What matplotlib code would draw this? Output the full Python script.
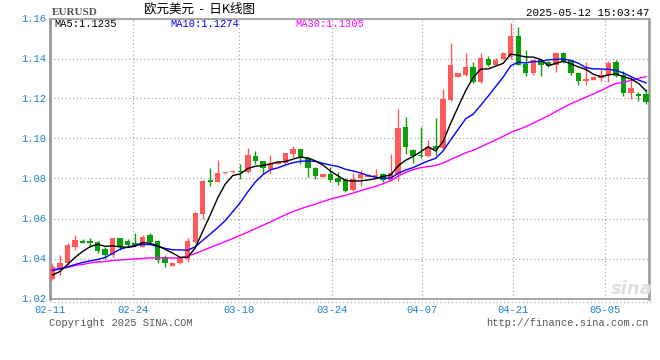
import numpy as np
import pandas as pd
import matplotlib
matplotlib.use("Agg")
import matplotlib.pyplot as plt
from matplotlib.lines import Line2D

# ========== DATA (daily bars) ========== #
opens = [1.0300, 1.0355, 1.0375, 1.0455, 1.0490, 1.0485, 1.0485, 1.0445, 1.0415, 1.0500,
         1.0485, 1.0475, 1.0460, 1.0515, 1.0485, 1.0405, 1.0365, 1.0375, 1.0399, 1.0485,
         1.0623, 1.0790, 1.0782, 1.0828, 1.0833, 1.0839, 1.0835, 1.0915, 1.0888, 1.0850,
         1.0875, 1.0879, 1.0920, 1.0945, 1.0904, 1.0854, 1.0809, 1.0820, 1.0800, 1.0799,
         1.0743, 1.0805, 1.0810, 1.0810, 1.0820, 1.0793, 1.0825, 1.1055, 1.0940, 1.0917,
         1.0912, 1.0962, 1.0954, 1.1193, 1.1309, 1.1320, 1.1359, 1.1282, 1.1399, 1.1370,
         1.1399, 1.1410, 1.1515, 1.1370, 1.1325, 1.1392, 1.1384, 1.1367, 1.1429, 1.1390,
         1.1329, 1.1287, 1.1295, 1.1304, 1.1320, 1.1382, 1.1315, 1.1229, 1.1220, 1.1220]
highs = [1.0380, 1.0420, 1.0475, 1.0515, 1.0495, 1.0505, 1.0490, 1.0460, 1.0505, 1.0505,
         1.0495, 1.0530, 1.0520, 1.0528, 1.0493, 1.0420, 1.0378, 1.0410, 1.0505, 1.0632,
         1.0795, 1.0854, 1.0892, 1.0835, 1.0843, 1.0874, 1.0951, 1.0937, 1.0890, 1.0919,
         1.0885, 1.0930, 1.0962, 1.0948, 1.0908, 1.0858, 1.0823, 1.0856, 1.0832, 1.0805,
         1.0830, 1.0845, 1.0823, 1.0849, 1.0828, 1.0925, 1.1150, 1.1109, 1.0949, 1.1057,
         1.0995, 1.1103, 1.1245, 1.1479, 1.1330, 1.1429, 1.1382, 1.1429, 1.1415, 1.1404,
         1.1432, 1.1580, 1.1557, 1.1442, 1.1400, 1.1395, 1.1388, 1.1432, 1.1434, 1.1393,
         1.1333, 1.1384, 1.1313, 1.1350, 1.1390, 1.1392, 1.1340, 1.1309, 1.1232, 1.1250]
lows = [1.0295, 1.0320, 1.0370, 1.0445, 1.0475, 1.0460, 1.0430, 1.0395, 1.0410, 1.0445,
        1.0460, 1.0465, 1.0455, 1.0475, 1.0380, 1.0358, 1.0363, 1.0373, 1.0385, 1.0480,
        1.0600, 1.0762, 1.0780, 1.0825, 1.0830, 1.0799, 1.0830, 1.0875, 1.0825, 1.0825,
        1.0873, 1.0870, 1.0910, 1.0873, 1.0808, 1.0799, 1.0806, 1.0784, 1.0770, 1.0733,
        1.0738, 1.0765, 1.0808, 1.0808, 1.0780, 1.0790, 1.0787, 1.0920, 1.0879, 1.0904,
        1.0910, 1.0918, 1.0950, 1.1190, 1.1305, 1.1312, 1.1279, 1.1280, 1.1362, 1.1368,
        1.1398, 1.1400, 1.1368, 1.1312, 1.1320, 1.1315, 1.1357, 1.1332, 1.1378, 1.1317,
        1.1267, 1.1270, 1.1293, 1.1287, 1.1282, 1.1310, 1.1212, 1.1199, 1.1187, 1.1174]
closes = [1.0360, 1.0380, 1.0465, 1.0490, 1.0480, 1.0480, 1.0440, 1.0415, 1.0500, 1.0455,
          1.0467, 1.0468, 1.0510, 1.0482, 1.0393, 1.0375, 1.0375, 1.0403, 1.0485, 1.0628,
          1.0790, 1.0783, 1.0830, 1.0832, 1.0839, 1.0833, 1.0915, 1.0887, 1.0851, 1.0879,
          1.0881, 1.0927, 1.0945, 1.0904, 1.0854, 1.0812, 1.0820, 1.0795, 1.0785, 1.0738,
          1.0799, 1.0823, 1.0818, 1.0818, 1.0795, 1.0830, 1.1055, 1.0958, 1.0912, 1.0911,
          1.0959, 1.0950, 1.1195, 1.1365, 1.1325, 1.1359, 1.1282, 1.1404, 1.1370, 1.1395,
          1.1429, 1.1515, 1.1370, 1.1329, 1.1392, 1.1367, 1.1362, 1.1429, 1.1382, 1.1329,
          1.1287, 1.1300, 1.1307, 1.1320, 1.1375, 1.1315, 1.1229, 1.1250, 1.1212, 1.1184]

# MA values before the window is full (history not shown on the chart)
ma5_head = [1.0318, 1.0335, 1.0370, 1.0405]
ma10_head = [1.0340, 1.0348, 1.0358, 1.0370, 1.0380, 1.0388, 1.0395, 1.0405, 1.0425]
ma30_head = [1.0345, 1.0350, 1.0355, 1.0365, 1.0370, 1.0378, 1.0383, 1.0385, 1.0390, 1.0393,
             1.0395, 1.0398, 1.0400, 1.0403, 1.0403, 1.0403, 1.0402, 1.0403, 1.0411, 1.0425,
             1.0440, 1.0455, 1.0470, 1.0485, 1.0500, 1.0516, 1.0532, 1.0549, 1.0566]

date_ticks = [-0.33, 10.7, 24.8, 37.2, 49.2, 61.3, 73.6]
date_labels = ["02-11", "02-24", "03-10", "03-24", "04-07", "04-21", "05-05"]
price_ticks = [1.02, 1.04, 1.06, 1.08, 1.10, 1.12, 1.14, 1.16]

ma_labels = ["MA5:1.1235", "MA10:1.1274", "MA30:1.1305"]

# ========== WARNA / FONT ========== #
RED = "#ff5a5a"
GREEN = "#0a9e0a"
TICK_COLOR = "#1a80d0"
MONO = "Liberation Mono"
W, H = 660, 360

# ========== MOVING AVERAGE ========== #
close_s = pd.Series(closes)

def moving_avg(n, head):
    ma = close_s.rolling(n).mean().to_numpy()
    ma[:len(head)] = head
    return ma

ma5 = moving_avg(5, ma5_head)
ma10 = moving_avg(10, ma10_head)
ma30 = moving_avg(30, ma30_head)

# ========== PLOT ========== #
fig = plt.figure(figsize=(W / 100, H / 100), dpi=100)
ax = fig.add_axes([50 / W, 1 - 298.5 / H, 599 / W, 280 / H])

x = np.arange(len(closes))
o = np.array(opens)
c = np.array(closes)
colors = [RED if cc >= oo else GREEN for oo, cc in zip(o, c)]

ax.vlines(x, lows, highs, colors=colors, linewidth=1, zorder=2)
body_bottom = np.minimum(o, c)
body_height = np.maximum(np.abs(c - o), 0.0006)
ax.bar(x, body_height, bottom=body_bottom, width=0.72, color=colors, linewidth=0, zorder=3)

ax.plot(x, ma30, color="#ff00ff", linewidth=1, zorder=4)
ax.plot(x, ma10, color="#0000ff", linewidth=1, zorder=4)
ax.plot(x, ma5, color="#000000", linewidth=1, zorder=5)

ax.set_xlim(-0.33, 79.4)
ax.set_ylim(1.02, 1.16)
ax.set_xticks(date_ticks)
ax.set_xticklabels(date_labels)
ax.set_yticks(price_ticks)
ax.set_yticklabels([f"{v:.2f}" for v in price_ticks])
ax.tick_params(length=0, colors=TICK_COLOR, labelsize=7.5)
ax.tick_params(axis="x", pad=4.5)
ax.tick_params(axis="y", pad=3)
for lab in ax.get_xticklabels() + ax.get_yticklabels():
    lab.set_fontfamily(MONO)

ax.grid(True, linestyle=(0, (1, 2)), color="#aaaaaa", linewidth=0.9, zorder=0)
ax.set_axisbelow(True)
for side in ["top", "right", "bottom"]:
    ax.spines[side].set_color("#999999")
    ax.spines[side].set_linewidth(1.2)
ax.spines["left"].set_color("#999999")
ax.spines["left"].set_linewidth(2)
ax.spines["right"].set_linewidth(1.8)

# garis titik di bawah sumbu
fig.add_artist(Line2D([50 / W, 651 / W], [1 - 301.5 / H] * 2, color="#aaaaaa",
                      linestyle=(0, (1, 2)), linewidth=0.9))

# watermark sina
fig.text(632 / W, 1 - 289 / H, "sina", fontsize=13, style="italic", weight="bold",
         color="#dedede", ha="center", va="center", zorder=1)

# ========== TEKS ========== #
def ftext(px, py, s, **kw):
    fig.text(px / W, 1 - py / H, s, **kw)

ftext(52, 15, "EURUSD", fontsize=8, family="Liberation Serif", weight="bold",
      color="#555555", va="baseline")
ftext(199, 9.5, "欧元美元  -  日K线图", fontsize=9,
      family=["Noto Sans CJK SC", "DejaVu Sans"], color="#000000", ha="center", va="center")
ftext(649, 15.5, "2025-05-12 15:03:47", fontsize=7.8, family=MONO, color="#000000",
      ha="right", va="baseline")

ftext(54, 24, ma_labels[0], fontsize=7.5, family=MONO, color="#000000", va="center")
ftext(239, 24, ma_labels[1], fontsize=7.5, family=MONO, color="#0000ff", ha="right", va="center")
ftext(295, 24, ma_labels[2], fontsize=7.5, family=MONO, color="#ff00ff", va="center")

ftext(49, 323.5, "Copyright 2025 SINA.COM", fontsize=7.5, family=MONO, color="#555555", va="center")
ftext(649, 323.5, "http://finance.sina.com.cn", fontsize=7.5, family=MONO, color="#555555",
      ha="right", va="center")

fig.savefig("out.png", dpi=100)
